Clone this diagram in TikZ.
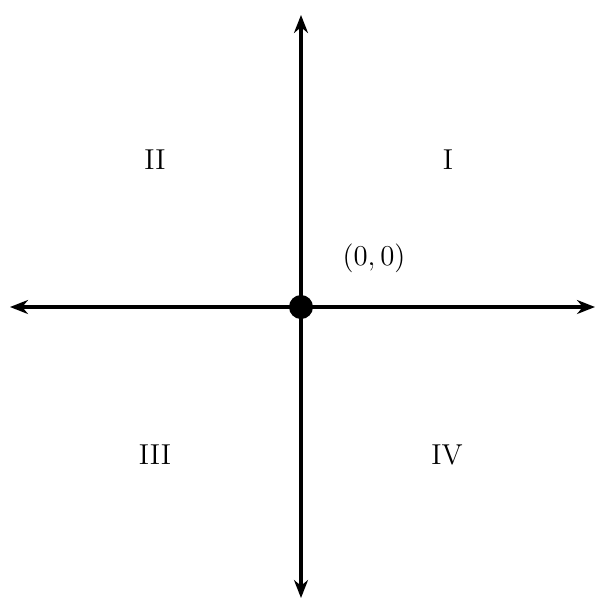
\documentclass[tikz,border=0pt]{standalone}
\usetikzlibrary{arrows.meta}
\begin{document}
\begin{tikzpicture}[x=0.5pt,y=-0.5pt,
  axis/.style={line width=2pt,-{Stealth[length=9pt,width=7pt]}},
  lab/.style={font=\Large}]
\useasboundingbox (0,0) rectangle (607,612);
\coordinate (O) at (301,307);
\coordinate (R) at (595,307);
\coordinate (L) at (10,307);
\coordinate (T) at (301,15);
\coordinate (B) at (301,598);
\draw[axis] (O) -- (R);
\draw[axis] (O) -- (L);
\draw[axis] (O) -- (T);
\draw[axis] (O) -- (B);
\fill (O) circle (6pt);
\node[lab] (q1) at (448,160) {I};
\node[lab] (q2) at (155,160) {II};
\node[lab] (q3) at (155,455) {III};
\node[lab] (q4) at (447,455) {IV};
\node[lab] (o) at (374,258) {$(0,0)$};
\end{tikzpicture}
\end{document}
